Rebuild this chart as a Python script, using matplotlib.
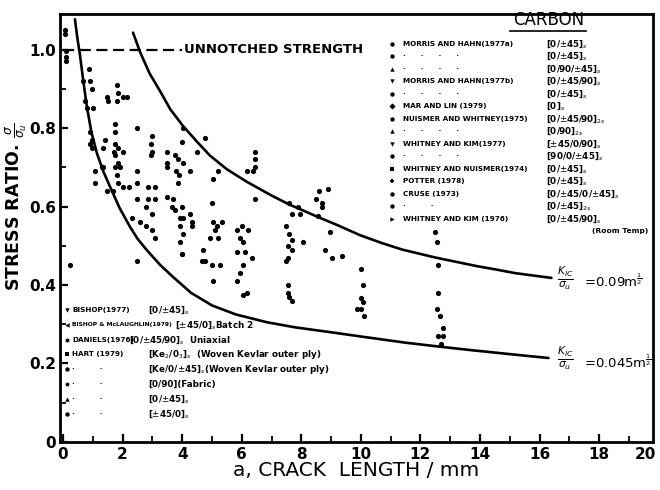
import matplotlib
matplotlib.use("Agg")
import matplotlib.pyplot as plt
from matplotlib.ticker import MultipleLocator

# data
crack_len = [0.05, 0.05, 0.1, 0.1, 0.1,
             0.87, 0.67, 0.9, 0.97, 0.74, 0.8, 1.0,
             1.8, 1.85, 1.8, 1.47, 1.5, 2.15, 2.0,
             1.75, 1.75, 2.5, 0.9, 0.97, 0.9, 0.97,
             1.41, 1.35, 1.75, 1.85, 1.7, 2.0, 1.75, 1.85, 1.75, 1.9, 1.8, 1.3, 1.35,
             1.07, 1.07, 2.5, 3.0, 2.97, 3.0, 2.97,
             1.47, 1.68, 1.85, 2.0, 2.2, 2.5, 2.48, 2.3, 2.6,
             2.85, 3.1, 2.85, 3.1, 2.8, 3.0, 2.8, 3.0, 3.1,
             3.5, 3.5, 3.5, 3.76, 3.85, 4.03, 3.8, 4.26, 3.9, 3.86,
             4.03, 4.0, 4.77, 4.5,
             3.5, 3.7, 3.66, 3.76, 4.0, 3.93, 4.03, 3.93, 4.03, 3.93, 4.0,
             4.26, 4.33, 4.33,
             5.03, 5.2, 5.0, 5.03, 5.17, 5.33, 5.1, 4.93, 5.2,
             4.7, 4.77, 5.0, 5.27, 5.03, 4.66,
             5.84, 6.0, 6.2, 5.94, 6.04,
             6.17, 6.44, 6.44, 6.44, 6.38, 6.44,
             5.84, 6.1, 6.34, 6.04, 5.94, 5.84, 6.04, 6.17,
             7.6, 7.9, 7.7, 7.95, 8.55,
             7.5, 7.6, 7.7, 7.55, 7.7, 7.55, 8.05,
             7.5, 7.55, 7.55, 7.6, 7.7,
             8.6, 8.9, 8.5, 8.7, 8.7, 8.96, 8.8, 9.03, 9.36,
             10.0, 10.07, 10.0, 10.07, 9.87, 10.0, 10.1,
             12.5, 12.55, 12.6, 12.6, 12.55, 12.65, 12.75, 12.6, 12.75, 12.7,
             0.23, 2.5, 4.0]
stress_ratio = [1.05, 1.04, 0.995, 0.98, 0.97,
                0.95, 0.92, 0.92, 0.90, 0.87, 0.85, 0.85,
                0.91, 0.89, 0.87, 0.88, 0.87, 0.88, 0.88,
                0.81, 0.79, 0.80, 0.79, 0.77, 0.76, 0.75,
                0.77, 0.75, 0.76, 0.75, 0.74, 0.74, 0.73, 0.71, 0.70, 0.70, 0.68, 0.70, 0.70,
                0.69, 0.66, 0.69, 0.78, 0.76, 0.74, 0.73,
                0.64, 0.64, 0.66, 0.65, 0.65, 0.66, 0.62, 0.57, 0.56,
                0.65, 0.65, 0.62, 0.62, 0.60, 0.58, 0.55, 0.54, 0.52,
                0.74, 0.71, 0.70, 0.73, 0.72, 0.71, 0.69, 0.69, 0.68, 0.66,
                0.80, 0.765, 0.775, 0.74,
                0.625, 0.62, 0.60, 0.59, 0.60, 0.57, 0.57, 0.55, 0.53, 0.51, 0.48,
                0.58, 0.56, 0.55,
                0.67, 0.69, 0.61, 0.56, 0.55, 0.56, 0.54, 0.52, 0.52,
                0.49, 0.46, 0.45, 0.45, 0.41, 0.46,
                0.54, 0.55, 0.54, 0.52, 0.51,
                0.69, 0.74, 0.72, 0.70, 0.69, 0.62,
                0.485, 0.485, 0.47, 0.45, 0.43, 0.41, 0.375, 0.38,
                0.61, 0.60, 0.58, 0.58, 0.575,
                0.55, 0.53, 0.515, 0.50, 0.49, 0.47, 0.51,
                0.46, 0.40, 0.38, 0.37, 0.36,
                0.64, 0.645, 0.62, 0.61, 0.60, 0.535, 0.49, 0.47, 0.475,
                0.44, 0.40, 0.367, 0.357, 0.34, 0.34, 0.32,
                0.535, 0.51, 0.45, 0.38, 0.34, 0.32, 0.29, 0.27, 0.27, 0.25,
                0.45, 0.46, 0.48]

# K_IC/sigma_u = 0.09 m^1/2 curve (traced)
upper_x = [2.35, 2.58, 2.9, 3.25, 3.6, 4.03, 4.5, 4.93, 5.5, 6.17, 7.0, 7.6, 8.6,
           9.2, 9.97, 10.7, 11.4, 12.5, 13.9, 14.5, 15.2, 15.8, 16.4]
upper_y = [1.043, 0.995, 0.94, 0.895, 0.848, 0.805, 0.765, 0.73, 0.695, 0.663, 0.628, 0.605, 0.572,
           0.553, 0.527, 0.507, 0.49, 0.47, 0.448, 0.44, 0.43, 0.424, 0.418]
# K_IC/sigma_u = 0.045 m^1/2 curve (traced)
lower_x = [0.4, 0.48, 0.57, 0.68, 0.8, 0.95, 1.14, 1.35, 1.58, 1.9, 2.25, 2.5, 2.8, 3.25, 3.7,
           4.3, 5.0, 5.8, 6.85, 7.8, 8.96, 10.07, 11.5, 12.75, 13.7, 14.6, 15.5, 16.3]
lower_y = [1.077, 1.03, 0.985, 0.92, 0.855, 0.79, 0.735, 0.69, 0.65, 0.596, 0.548, 0.518, 0.49, 0.452, 0.42,
           0.38, 0.348, 0.325, 0.305, 0.292, 0.28, 0.268, 0.253, 0.242, 0.234, 0.227, 0.22, 0.214]

unnotched = 1.0

dots4 = "\u00b7      \u00b7      \u00b7      \u00b7"
carbon_names = ["MORRIS AND HAHN(1977a)", dots4, dots4,
                "MORRIS AND HAHN(1977b)", dots4,
                "MAR AND LIN (1979)", "NUISMER AND WHITNEY(1975)", dots4,
                "WHITNEY AND KIM(1977)", dots4,
                "WHITNEY AND NUISMER(1974)", "POTTER (1978)", "CRUSE (1973)",
                "\u00b7          \u00b7",
                "WHITNEY AND KIM (1976)"]
carbon_layups = [r"[0/$\pm$45]$_s$", r"[0/$\pm$45]$_s$", r"[0/90/$\pm$45]$_s$",
                 r"[0/$\pm$45/90]$_s$", r"[0/$\pm$45]$_s$",
                 r"[0]$_s$", r"[0/$\pm$45/90]$_{2s}$", r"[0/90]$_{2s}$",
                 r"[$\pm$45/0/90]$_s$", r"[90/0/$\pm$45]$_s$",
                 r"[0/$\pm$45]$_s$", r"[0/$\pm$45]$_s$", r"[0/$\pm$45/0/$\pm$45]$_s$", r"[0/$\pm$45]$_{2s}$",
                 r"[0/$\pm$45/90]$_s$"]
carbon_marks = ["o", "o", "^", "v", "o", "D", "o", "^", "v", "o", "s", "P", "o", "o", ">"]

dots2 = "\u00b7          \u00b7"
kevlar_names = ["BISHOP(1977)", "BISHOP & McLAUGHLIN(1979)", "DANIELS(1976)", "HART (1979)",
                dots2, dots2, dots2, dots2]
kevlar_layups = [r"[0/$\pm$45]$_s$", r"[$\pm$45/0]$_s$Batch 2", r"[0/$\pm$45/90]$_s$  Uniaxial",
                 r"[Ke$_2$/0$_3$]$_s$  (Woven Kevlar outer ply)",
                 r"[Ke/0/$\pm$45]$_s$(Woven Kevlar outer ply)",
                 "[0/90](Fabric)", r"[0/$\pm$45]$_s$", r"[$\pm$45/0]$_s$"]
kevlar_layup_x = [2.85, 3.75, 2.2, 2.85, 2.85, 2.85, 2.85, 2.85]
kevlar_marks = ["v", "<", "h", "s", "o", "p", "^", "o"]

fig = plt.figure(figsize=(6.6, 4.9), dpi=100)
ax = fig.add_axes([0.091, 0.098, 0.898, 0.873])

ax.scatter(crack_len, stress_ratio, s=14, c="black", marker="o", linewidths=0, zorder=3)
ax.plot(upper_x, upper_y, color="black", lw=1.9, solid_capstyle="round")
ax.plot(lower_x, lower_y, color="black", lw=1.9, solid_capstyle="round")

ax.plot([0, 4.0], [unnotched, unnotched], color="black", lw=1.6, dashes=(5, 2.5))
ax.text(4.05, unnotched, "UNNOTCHED STRENGTH", fontsize=9.5, fontweight="bold",
        va="center", ha="left")

# curve labels
ax.text(16.6, 0.418, r"$\frac{K_{IC}}{\sigma_u}$", fontsize=11, va="center", ha="left")
ax.text(17.5, 0.408, r"=0.09m$^{\frac{1}{2}}$", fontsize=9.5, va="center", ha="left")
ax.text(16.6, 0.214, r"$\frac{K_{IC}}{\sigma_u}$", fontsize=11, va="center", ha="left")
ax.text(17.5, 0.204, r"=0.045m$^{\frac{1}{2}}$", fontsize=9.5, va="center", ha="left")

# carbon key
ax.text(16.3, 1.075, "CARBON", fontsize=12, ha="center", va="center")
ax.plot([15.0, 17.55], [1.047, 1.047], color="black", lw=1.2)
step_c = 0.0319
for i in range(len(carbon_names)):
    yy = 1.015 - step_c * i
    ax.scatter([11.05], [yy], s=10, c="black", marker=carbon_marks[i], linewidths=0)
    ax.text(11.4, yy, carbon_names[i], fontsize=5.2, fontweight="bold", va="center")
    ax.text(16.2, yy, carbon_layups[i], fontsize=6.3, fontweight="bold", va="center")
ax.text(19.65, 1.015 - step_c * 15, "(Room Temp)", fontsize=5.4, fontweight="bold",
        va="center", ha="right")

# kevlar key
for i in range(len(kevlar_names)):
    yy = 0.337 - 0.038 * i
    ax.scatter([0.12], [yy], s=10, c="black", marker=kevlar_marks[i], linewidths=0)
    ax.text(0.3, yy, kevlar_names[i], fontsize=5.2 if i != 1 else 4.3, fontweight="bold",
            va="center")
    ax.text(kevlar_layup_x[i], yy, kevlar_layups[i], fontsize=6.3, fontweight="bold",
            va="center")

ax.set_xlim(-0.1, 19.8)
ax.set_ylim(0, 1.09)
ax.set_xticks(range(0, 20, 2))
ax.set_xticklabels([str(v) for v in range(0, 20, 2)])
ax.xaxis.set_minor_locator(MultipleLocator(1))
ax.set_yticks([0, 0.2, 0.4, 0.6, 0.8, 1.0])
ax.set_yticklabels(["0", "0.2", "0.4", "0.6", "0.8", "1.0"])
ax.yaxis.set_minor_locator(MultipleLocator(0.1))
ax.tick_params(which="major", direction="in", length=6, width=1.6, labelsize=11)
ax.tick_params(axis="y", which="major", pad=3)
ax.tick_params(which="minor", direction="in", length=4, width=1.3)
for lab in ax.get_xticklabels() + ax.get_yticklabels():
    lab.set_fontweight("bold")
for sp in ax.spines.values():
    sp.set_linewidth(2)
# last x tick label sits at the right edge
ax.text(19.9, -0.012, "20", fontsize=11, fontweight="bold", ha="right", va="top", clip_on=False)

ax.set_xlabel("a, CRACK  LENGTH / mm", fontsize=14.5)
ax.xaxis.set_label_coords(0.5, -0.045)
ax.set_ylabel(r"STRESS RATIO. $\frac{\sigma}{\sigma_u}$", fontsize=12.5, fontweight="bold")
ax.yaxis.set_label_coords(-0.052, 0.55)

fig.savefig("out.png", dpi=100)
